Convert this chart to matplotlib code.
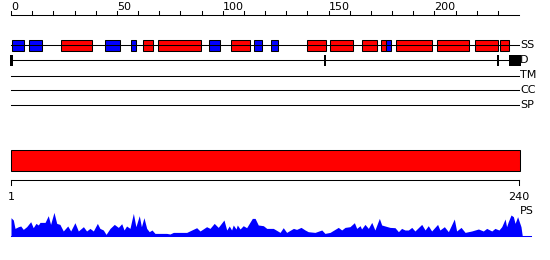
import matplotlib
matplotlib.use('Agg')
import matplotlib.pyplot as plt
from matplotlib.patches import Rectangle

# 서열 길이와 트랙 데이터
seq_len = 240
top_ticks = list(range(0, 240, 10))
top_labels = [0, 50, 100, 150, 200]

helix = [(23.8, 38.4), (62.5, 66.9), (69.6, 89.9), (104, 113), (140, 149),
         (150.8, 161.4), (166, 173), (175, 177.3), (182, 199), (201.4, 216.5),
         (219.3, 230.2), (231, 235.4)]
strand = [(0.6, 6.3), (8.7, 14.5), (44.6, 51.6), (56.8, 58.9), (93.7, 98.9),
          (115, 118.7), (123, 126), (177.3, 179.4)]
domain_marks = [0, 148, 229.7]
domain_block = (235.4, 240.8)
region = (0, 240)

ps_pos = [0, 0, 1.1, 1.9, 3.5, 4.6, 5.8, 7.4, 9.3, 10.5, 11.8, 12.9, 13.7, 16.1,
          17.6, 18.7, 20.3, 21.6, 23.1, 24.7, 26.8, 28.2, 30.2, 31.8, 34.2, 35.7,
          37.3, 38.9, 40.8, 42.0, 43.6, 44.9, 46.8, 48.8, 50.7, 52.3, 53.4, 54.6,
          56.2, 57.8, 59.0, 60.6, 61.6, 62.8, 64.1, 65.3, 66.6, 68.0, 73.5, 75.1,
          76.7, 83.0, 87.7, 89.3, 92.4, 94.0, 96.0, 97.9, 100.6, 101.9, 103.1,
          104.2, 105.0, 106.3, 106.9, 108.2, 109.7, 111.3, 114.0, 115.3, 116.8,
          119.2, 120.8, 123.9, 124.7, 127.1, 128.6, 130.2, 133.4, 134.9, 137.0,
          138.9, 140.4, 143.6, 146.8, 148.3, 150.7, 154.6, 156.2, 157.8, 160.1,
          162.2, 163.3, 164.9, 165.6, 167.2, 168.8, 170.4, 171.9, 174.0, 175.1,
          176.7, 179.0, 181.4, 183.0, 184.5, 186.1, 187.7, 189.3, 190.8, 194.0,
          195.6, 197.1, 198.7, 201.5, 202.6, 204.7, 206.6, 209.4, 210.5, 212.6,
          214.5, 217.6, 220.8, 223.1, 224.7, 227.1, 228.6, 230.5, 231.8, 233.4,
          234.1, 234.9, 236.2, 237.3, 238.1, 239.3, 240.9, 241.5]
ps_val = [0, 18, 15.7, 7.3, 9, 9.7, 6.3, 9, 14, 8, 12.3, 10.7, 13.3, 13.3,
          20, 11.3, 23.3, 12.3, 11.3, 4.7, 9.7, 4.7, 13, 4.7, 9, 4.7,
          7.3, 4.7, 12.3, 7.3, 5.7, 1.3, 7.3, 11.3, 8.3, 12, 5.7, 9.7,
          7.3, 22.3, 9, 20, 9, 18, 7.3, 4, 5.7, 2.3, 2.3, 1.7,
          3.3, 3.3, 8, 4.7, 9, 7.3, 12.3, 8.3, 15.7, 5.7, 9.7,
          5.7, 10.7, 6.7, 10.7, 6.7, 10, 8, 17.3, 17.3, 10.7,
          10, 7.3, 7.3, 6.3, 3.3, 8, 3.3, 7.3, 6.3, 8.3,
          5.7, 4, 3.3, 5.7, 2.3, 3.3, 8.3, 5.7, 8.3, 9,
          13, 7.3, 10, 6.7, 11.3, 7.3, 13.3, 5.7, 17.3, 10.7,
          9.7, 8.3, 8, 4, 7.3, 5.7, 5.7, 8.3, 4.7, 11.3,
          5.7, 10, 4.7, 11.3, 5.7, 9, 4, 16.7, 4.7, 8.3,
          3.3, 4.7, 6.7, 4.7, 7.3, 4.7, 7.3, 5.7, 9, 16.7,
          9, 14, 20.7, 19, 12.3, 19, 9, 0]

px = 2.117  # pixels per residue
fig = plt.figure(figsize=(5.5, 2.6), dpi=100)
ax = fig.add_axes([0, 0, 1, 1])
ax.set_xlim(-11 / px, 539 / px)
ax.set_ylim(260, 0)
ax.axis('off')

lw = 0.75
fs = 8

# 위쪽 눈금자
ax.plot([0, seq_len], [15, 15], color='black', lw=lw)
for t in top_ticks:
    ax.plot([t, t], [11, 15], color='black', lw=lw)
for t in top_labels:
    ax.text(t, 10, str(t), fontsize=fs, ha='left', va='baseline')

# 트랙 라인
tracks = {'SS': 45, 'D': 60, 'TM': 75.5, 'CC': 90, 'SP': 105}
for name, y in tracks.items():
    ax.plot([0, seq_len], [y, y], color='black', lw=lw)
    ax.text(seq_len + 0.4, y, name, fontsize=fs, ha='left', va='center')

for s, e in helix:
    ax.add_patch(Rectangle((s, 40), e - s, 10.5, facecolor='#ff0000',
                           edgecolor='black', lw=lw))
for s, e in strand:
    ax.add_patch(Rectangle((s, 40), e - s, 10.5, facecolor='#0000ff',
                           edgecolor='black', lw=lw))

for m in domain_marks:
    ax.add_patch(Rectangle((m - 0.3, 55), 1.2, 10.5, facecolor='black',
                           edgecolor='none'))
ax.add_patch(Rectangle((domain_block[0], 55), domain_block[1] - domain_block[0],
                       10.5, facecolor='black', edgecolor='none'))

# 빨간 영역 막대
ax.add_patch(Rectangle((region[0] - 0.2, 150), region[1] - region[0] + 0.5, 20.5,
                       facecolor='#ff0000', edgecolor='black', lw=lw))

# 아래쪽 눈금자
ax.plot([0, seq_len], [180, 180], color='black', lw=lw)
ax.plot([0, 0], [180, 185], color='black', lw=lw)
ax.plot([seq_len, seq_len], [180, 185], color='black', lw=lw)
ax.text(0, 199.5, '1', fontsize=fs, ha='center', va='baseline')
ax.text(seq_len, 199.5, '240', fontsize=fs, ha='center', va='baseline')

# PS 프로파일
base = 235.7
ax.fill_between(ps_pos, [base - v for v in ps_val], base, color='#0000ff', lw=0)
ax.plot([0, 520 / px], [base, base], color='#0000ff', lw=lw)
ax.text(seq_len + 0.4, 211, 'PS', fontsize=fs, ha='left', va='center')

fig.savefig('out.png', dpi=100)
